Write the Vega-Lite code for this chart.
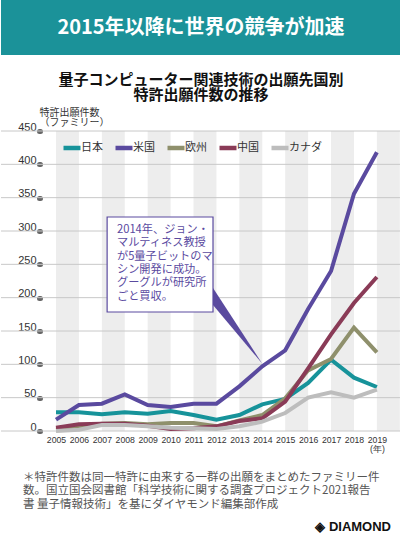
{
  "$schema": "https://vega.github.io/schema/vega-lite/v6.json",
  "padding": 0,
  "background": "white",
  "spacing": 76,
  "bounds": "flush",
  "config": {
    "view": {"stroke": null},
    "font": "Noto Sans CJK JP",
    "axisX": {
      "domain": false, "ticks": false, "grid": false,
      "labelFont": "Liberation Sans", "labelFontSize": 8.7, "labelColor": "#333333",
      "labelPadding": 4, "labelLineHeight": 9.5, "labelFlush": false, "labelOverlap": false
    },
    "axisY": {
      "titleAngle": 0, "titleAlign": "left", "titleBaseline": "alphabetic",
      "titleX": -1, "titleY": -16, "titleFontSize": 10, "titleFontWeight": "normal",
      "titleColor": "#333333", "titleLineHeight": 10.5,
      "offset": -39, "domain": false,
      "tickSize": 1, "tickWidth": 5, "tickCap": "round", "tickColor": "#666666",
      "labelPadding": 3, "labelFont": "Liberation Sans", "labelFontSize": 11,
      "labelColor": "#333333", "labelBaseline": "alphabetic", "labelOffset": -1, "labelFlush": false,
      "labelOverlap": false,
      "grid": false
    }
  },
  "vconcat": [
    {
      "width": 400,
      "height": 55,
      "view": {"fill": "#1b9299", "stroke": null},
      "data": {"values": [{"t": "2015年以降に世界の競争が加速"}]},
      "mark": {"type": "text", "color": "white", "fontSize": 20, "fontWeight": "bold", "font": "Noto Sans CJK JP", "baseline": "middle", "align": "center"},
      "encoding": {"text": {"field": "t", "type": "nominal"}}
    },
    {
      "width": 400,
      "height": 300,
      "title": {
        "text": ["量子コンピューター関連技術の出願先国別", "特許出願件数の推移"],
        "fontSize": 15,
        "fontWeight": "bold",
        "color": "#111111",
        "anchor": "middle",
        "frame": "group",
        "offset": 4,
        "lineHeight": 15.5
      },
      "layer": [
        {
          "data": {"values": [
            {"start": 2005, "end": 2006}, {"start": 2007, "end": 2008}, {"start": 2009, "end": 2010},
            {"start": 2011, "end": 2012}, {"start": 2013, "end": 2014}, {"start": 2015, "end": 2016},
            {"start": 2017, "end": 2018}, {"start": 2019, "end": 2020}
          ]},
          "mark": {"type": "rect", "color": "#ededed"},
          "encoding": {
            "x": {"field": "start", "type": "quantitative", "title": null},
            "x2": {"field": "end"},
            "y": {"datum": 0, "type": "quantitative"},
            "y2": {"datum": 450}
          }
        },
        {
          "data": {"values": [
            {"v": 0}, {"v": 50}, {"v": 100}, {"v": 150}, {"v": 200},
            {"v": 250}, {"v": 300}, {"v": 350}, {"v": 400}, {"v": 450}
          ]},
          "mark": {"type": "rule", "color": "#c8c8c8", "strokeWidth": 1},
          "encoding": {
            "x": {"datum": 2002.6, "type": "quantitative"},
            "x2": {"datum": 2020.052},
            "y": {"field": "v", "type": "quantitative"}
          }
        },
        {
          "data": {"values": [
            {"year": 2005, "country": "日本", "count": 28}, {"year": 2006, "country": "日本", "count": 28},
            {"year": 2007, "country": "日本", "count": 25}, {"year": 2008, "country": "日本", "count": 28},
            {"year": 2009, "country": "日本", "count": 26}, {"year": 2010, "country": "日本", "count": 30},
            {"year": 2011, "country": "日本", "count": 24}, {"year": 2012, "country": "日本", "count": 17},
            {"year": 2013, "country": "日本", "count": 24}, {"year": 2014, "country": "日本", "count": 40},
            {"year": 2015, "country": "日本", "count": 48}, {"year": 2016, "country": "日本", "count": 72},
            {"year": 2017, "country": "日本", "count": 107}, {"year": 2018, "country": "日本", "count": 80},
            {"year": 2019, "country": "日本", "count": 66},
            {"year": 2005, "country": "米国", "count": 17}, {"year": 2006, "country": "米国", "count": 39},
            {"year": 2007, "country": "米国", "count": 41}, {"year": 2008, "country": "米国", "count": 55},
            {"year": 2009, "country": "米国", "count": 39}, {"year": 2010, "country": "米国", "count": 36},
            {"year": 2011, "country": "米国", "count": 41}, {"year": 2012, "country": "米国", "count": 41},
            {"year": 2013, "country": "米国", "count": 67}, {"year": 2014, "country": "米国", "count": 97},
            {"year": 2015, "country": "米国", "count": 121}, {"year": 2016, "country": "米国", "count": 183},
            {"year": 2017, "country": "米国", "count": 240}, {"year": 2018, "country": "米国", "count": 356},
            {"year": 2019, "country": "米国", "count": 418},
            {"year": 2005, "country": "欧州", "count": 2}, {"year": 2006, "country": "欧州", "count": 6},
            {"year": 2007, "country": "欧州", "count": 11}, {"year": 2008, "country": "欧州", "count": 12},
            {"year": 2009, "country": "欧州", "count": 10}, {"year": 2010, "country": "欧州", "count": 12},
            {"year": 2011, "country": "欧州", "count": 12}, {"year": 2012, "country": "欧州", "count": 7},
            {"year": 2013, "country": "欧州", "count": 16}, {"year": 2014, "country": "欧州", "count": 24},
            {"year": 2015, "country": "欧州", "count": 49}, {"year": 2016, "country": "欧州", "count": 91},
            {"year": 2017, "country": "欧州", "count": 108}, {"year": 2018, "country": "欧州", "count": 155},
            {"year": 2019, "country": "欧州", "count": 118},
            {"year": 2005, "country": "中国", "count": 5}, {"year": 2006, "country": "中国", "count": 10},
            {"year": 2007, "country": "中国", "count": 11}, {"year": 2008, "country": "中国", "count": 11},
            {"year": 2009, "country": "中国", "count": 8}, {"year": 2010, "country": "中国", "count": 3},
            {"year": 2011, "country": "中国", "count": 4}, {"year": 2012, "country": "中国", "count": 7},
            {"year": 2013, "country": "中国", "count": 15}, {"year": 2014, "country": "中国", "count": 19},
            {"year": 2015, "country": "中国", "count": 44}, {"year": 2016, "country": "中国", "count": 94},
            {"year": 2017, "country": "中国", "count": 145}, {"year": 2018, "country": "中国", "count": 192},
            {"year": 2019, "country": "中国", "count": 231},
            {"year": 2005, "country": "カナダ", "count": 0}, {"year": 2006, "country": "カナダ", "count": 2},
            {"year": 2007, "country": "カナダ", "count": 9}, {"year": 2008, "country": "カナダ", "count": 9},
            {"year": 2009, "country": "カナダ", "count": 7}, {"year": 2010, "country": "カナダ", "count": 5},
            {"year": 2011, "country": "カナダ", "count": 4}, {"year": 2012, "country": "カナダ", "count": 3},
            {"year": 2013, "country": "カナダ", "count": 7}, {"year": 2014, "country": "カナダ", "count": 14},
            {"year": 2015, "country": "カナダ", "count": 27}, {"year": 2016, "country": "カナダ", "count": 50},
            {"year": 2017, "country": "カナダ", "count": 58}, {"year": 2018, "country": "カナダ", "count": 50},
            {"year": 2019, "country": "カナダ", "count": 62}
          ]},
          "mark": {"type": "line", "strokeWidth": 4},
          "encoding": {
            "x": {
              "field": "year", "type": "quantitative", "title": null,
              "scale": {"domain": [2002.6, 2020.052], "nice": false, "zero": false},
              "axis": {
                "values": [2005, 2006, 2007, 2008, 2009, 2010, 2011, 2012, 2013, 2014, 2015, 2016, 2017, 2018, 2019],
                "tickCount": 30,
                "format": "d", "title": null,
                "labelExpr": "datum.value == 2019 ? ['2019', '(年)'] : datum.label"
              }
            },
            "y": {
              "field": "count", "type": "quantitative",
              "scale": {"domain": [0, 450], "nice": false},
              "title": ["特許出願件数", "（ファミリー）"],
              "axis": {
                "values": [0, 50, 100, 150, 200, 250, 300, 350, 400, 450],
                "tickCount": 20,
                "title": ["特許出願件数", "（ファミリー）"]
              }
            },
            "color": {
              "field": "country", "type": "nominal",
              "scale": {"domain": ["日本", "米国", "欧州", "中国", "カナダ"], "range": ["#17939a", "#5a4a9f", "#8f906c", "#8a3b57", "#bdbdbd"]},
              "legend": {
                "orient": "none", "legendX": 60, "legendY": 137, "direction": "horizontal", "title": null,
                "symbolType": "stroke", "symbolStrokeWidth": 4.5, "symbolSize": 289,
                "labelFontSize": 11, "labelColor": "#333333", "labelOffset": -2, "columnPadding": 3, "padding": 0
              }
            }
          }
        },
        {
          "data": {"values": [{"x": 2011.63, "lo": 198, "hi": 226}, {"x": 2014, "lo": 101, "hi": 101}]},
          "mark": {"type": "area", "color": "#5a4a9f", "opacity": 1},
          "encoding": {
            "x": {"field": "x", "type": "quantitative", "title": null},
            "y": {"field": "hi", "type": "quantitative"},
            "y2": {"field": "lo"}
          }
        },
        {
          "data": {"values": [{}]},
          "mark": {"type": "rect", "fill": "white", "stroke": "#5a4a9f", "strokeWidth": 1.2},
          "encoding": {
            "x": {"datum": 2007.23, "type": "quantitative"},
            "x2": {"datum": 2011.85},
            "y": {"datum": 321, "type": "quantitative"},
            "y2": {"datum": 178.5}
          }
        },
        {
          "data": {"values": [{}]},
          "mark": {
            "type": "text",
            "text": ["2014年、ジョン・", "マルティネス教授", "が5量子ビットのマ", "シン開発に成功。", "グーグルが研究所", "ごと買収。"],
            "align": "left", "baseline": "middle", "fontSize": 11.2, "lineHeight": 13.3, "color": "#5a4a9f"
          },
          "encoding": {
            "x": {"datum": 2007.66, "type": "quantitative"},
            "y": {"datum": 301.5, "type": "quantitative"}
          }
        }
      ]
    },
    {
      "width": 400,
      "height": 42,
      "title": {
        "text": ["＊特許件数は同一特許に由来する一群の出願をまとめたファミリー件", "　数。国立国会図書館「科学技術に関する調査プロジェクト2021報告", "　書 量子情報技術」を基にダイヤモンド編集部作成"],
        "anchor": "start", "frame": "group", "dx": 22, "fontSize": 11.5, "fontWeight": "normal",
        "color": "#555555", "lineHeight": 13.5, "offset": -3
      },
      "data": {"values": [{}]},
      "mark": {"type": "text", "text": "◈ DIAMOND", "align": "right", "baseline": "middle", "fontSize": 13, "fontWeight": "bold", "font": "Liberation Sans", "color": "#111111"},
      "encoding": {"x": {"value": 390}, "y": {"value": 20}}
    }
  ]
}
